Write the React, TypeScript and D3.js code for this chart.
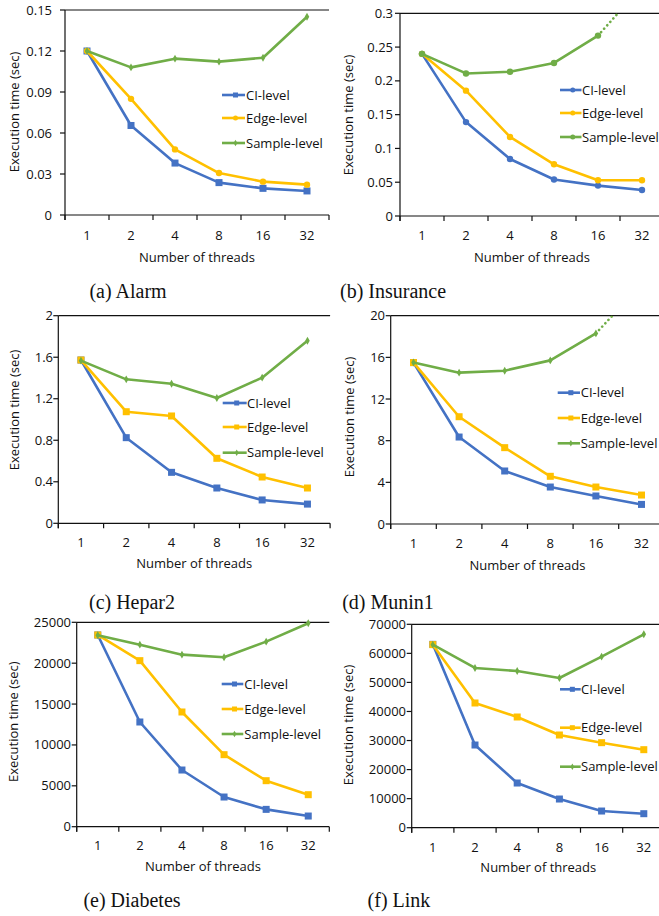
import React from "react";
import * as d3 from "d3";

// ---------- data ----------
const threads = ["1", "2", "4", "8", "16", "32"];
const seriesNames = ["CI-level", "Edge-level", "Sample-level"];

const alarmTicks = [0, 0.03, 0.06, 0.09, 0.12, 0.15];
const alarmCI = [0.12, 0.0655, 0.038, 0.0237, 0.0195, 0.0176];
const alarmEdge = [0.12, 0.085, 0.048, 0.0307, 0.0244, 0.0222];
const alarmSample = [0.12, 0.108, 0.1144, 0.1122, 0.1151, 0.1451];

const insuranceTicks = [0, 0.05, 0.1, 0.15, 0.2, 0.25, 0.3];
const insuranceCI = [0.24, 0.139, 0.0844, 0.054, 0.045, 0.0385];
const insuranceEdge = [0.24, 0.1855, 0.117, 0.0765, 0.053, 0.0528];
const insuranceSample = [0.24, 0.211, 0.2135, 0.2265, 0.267, 0.34];

const hepar2Ticks = [0, 0.4, 0.8, 1.2, 1.6, 2];
const hepar2CI = [1.573, 0.825, 0.491, 0.34, 0.225, 0.185];
const hepar2Edge = [1.573, 1.075, 1.034, 0.626, 0.446, 0.34];
const hepar2Sample = [1.567, 1.387, 1.345, 1.207, 1.403, 1.759];

const munin1Ticks = [0, 4, 8, 12, 16, 20];
const munin1CI = [15.5, 8.35, 5.09, 3.55, 2.69, 1.88];
const munin1Edge = [15.5, 10.3, 7.33, 4.58, 3.55, 2.78];
const munin1Sample = [15.5, 14.53, 14.72, 15.71, 18.3, 23];

const diabetesTicks = [0, 5000, 10000, 15000, 20000, 25000];
const diabetesCI = [23450, 12806, 6933, 3630, 2120, 1305];
const diabetesEdge = [23450, 20310, 14030, 8809, 5628, 3915];
const diabetesSample = [23410, 22267, 21044, 20718, 22634, 24878];

const linkTicks = [0, 10000, 20000, 30000, 40000, 50000, 60000, 70000];
const linkCI = [63100, 28459, 15377, 9869, 5738, 4820];
const linkEdge = [63000, 42918, 38098, 31902, 29262, 26852];
const linkSample = [63000, 54967, 53934, 51525, 58869, 66557];

const captions = ["(a) Alarm", "(b) Insurance", "(c) Hepar2", "(d) Munin1", "(e) Diabetes", "(f) Link"];

// ---------- styling / layout ----------
const COLORS = ["#4472C4", "#FFC000", "#70AD47"];
const FONT = "'Open Sans', 'Liberation Sans', sans-serif";

type Panel = {
  id: string;
  ticks: number[];
  series: number[][];
  markers: string[];
  dottedLast: boolean;
  x0: number; band: number; yTop: number; yBot: number;
  labelRight: number; xLabelY: number; xTitleY: number;
  yTitleX: number; yTitleY: number;
  legX0: number; legX1: number; legTextX: number; legYs: number[];
  capX: number; capY: number; caption: string;
};

const panels: Panel[] = [
  { id: "a", ticks: alarmTicks, series: [alarmCI, alarmEdge, alarmSample], markers: ["square", "circle", "diamond"], dottedLast: false,
    x0: 65, band: 44, yTop: 10, yBot: 215, labelRight: 52, xLabelY: 235, xTitleY: 257, yTitleX: 14, yTitleY: 112,
    legX0: 222, legX1: 245, legTextX: 246, legYs: [95, 118, 143], capX: 128, capY: 298, caption: captions[0] },
  { id: "b", ticks: insuranceTicks, series: [insuranceCI, insuranceEdge, insuranceSample], markers: ["circle", "circle", "circle"], dottedLast: true,
    x0: 400, band: 44, yTop: 13.3, yBot: 216, labelRight: 393, xLabelY: 235, xTitleY: 257, yTitleX: 348, yTitleY: 115,
    legX0: 560, legX1: 581.5, legTextX: 582, legYs: [90, 113, 137], capX: 393, capY: 298, caption: captions[1] },
  { id: "c", ticks: hepar2Ticks, series: [hepar2CI, hepar2Edge, hepar2Sample], markers: ["square", "square", "diamond"], dottedLast: false,
    x0: 58.3, band: 45.3, yTop: 315.7, yBot: 523.3, labelRight: 53, xLabelY: 542.7, xTitleY: 563.3, yTitleX: 14, yTitleY: 410,
    legX0: 222.7, legX1: 246.7, legTextX: 247, legYs: [403, 427, 452.7], capX: 132, capY: 608.5, caption: captions[2] },
  { id: "d", ticks: munin1Ticks, series: [munin1CI, munin1Edge, munin1Sample], markers: ["square", "square", "diamond"], dottedLast: true,
    x0: 390.7, band: 45.6, yTop: 315.7, yBot: 524, labelRight: 385, xLabelY: 543.3, xTitleY: 565, yTitleX: 349.3, yTitleY: 417,
    legX0: 557.7, legX1: 580, legTextX: 580.7, legYs: [392.7, 418, 443.3], capX: 388, capY: 608.5, caption: captions[3] },
  { id: "e", ticks: diabetesTicks, series: [diabetesCI, diabetesEdge, diabetesSample], markers: ["square", "square", "diamond"], dottedLast: false,
    x0: 76.7, band: 42.1, yTop: 622.3, yBot: 826.7, labelRight: 71, xLabelY: 845, xTitleY: 866, yTitleX: 13.3, yTitleY: 721.7,
    legX0: 221.7, legX1: 243.3, legTextX: 244.3, legYs: [684, 709, 734], capX: 132, capY: 906.5, caption: captions[4] },
  { id: "f", ticks: linkTicks, series: [linkCI, linkEdge, linkSample], markers: ["square", "square", "diamond"], dottedLast: false,
    x0: 411.7, band: 42.2, yTop: 624.3, yBot: 827.7, labelRight: 406, xLabelY: 847.3, xTitleY: 867.3, yTitleX: 348.3, yTitleY: 725,
    legX0: 560, legX1: 580.7, legTextX: 581, legYs: [689.3, 727.7, 766.7], capX: 399, capY: 906.5, caption: captions[5] },
];

function Marker({ type, x, y, color, small }: { type: string; x: number; y: number; color: string; small?: boolean }) {
  if (type === "square") {
    const s = small ? 5 : 7;
    return <rect x={x - s / 2} y={y - s / 2} width={s} height={s} fill={color} />;
  }
  if (type === "circle") {
    const r = small ? 2.5 : 3.2;
    return <circle cx={x} cy={y} r={r} fill={color} />;
  }
  const p = d3.symbol().type(d3.symbolDiamond).size(small ? 12 : 18)();
  return <path d={p || ""} transform={`translate(${x},${y})`} fill={color} />;
}

function PanelChart({ p }: { p: Panel }) {
  const x1 = p.x0 + p.band * threads.length;
  const x = d3.scaleBand<string>().domain(threads).range([p.x0, x1]).padding(0);
  const maxV = p.ticks[p.ticks.length - 1];
  const y = d3.scaleLinear().domain([0, maxV]).range([p.yBot, p.yTop]);
  const cx = (t: string) => (x(t) as number) + x.bandwidth() / 2;
  const line = d3.line<number>().x((_, i) => cx(threads[i])).y((v) => y(v));
  const clipId = `clip-${p.id}`;
  const boundaries = d3.range(threads.length + 1).map((i) => p.x0 + i * x.bandwidth());

  return (
    <g>
      <defs>
        <clipPath id={clipId}>
          <rect x={p.x0} y={p.yTop - 4} width={x1 - p.x0 + 4} height={p.yBot - p.yTop + 8} />
        </clipPath>
        <clipPath id={clipId + "-top"}>
          <rect x={p.x0} y={p.yTop} width={x1 - p.x0 + 4} height={p.yBot - p.yTop + 8} />
        </clipPath>
      </defs>
      {/* axes */}
      <line x1={p.x0} x2={x1} y1={p.yBot} y2={p.yBot} stroke="#111" strokeWidth={1.2} />
      <line x1={p.x0} x2={x1} y1={p.yTop} y2={p.yTop} stroke="#111" strokeWidth={1.2} />
      <line x1={p.x0} x2={p.x0} y1={p.yTop} y2={p.yBot + 5} stroke="#111" strokeWidth={1.2} />
      {boundaries.map((bx, i) => (
        <line key={"xt" + i} x1={bx} x2={bx} y1={p.yBot} y2={p.yBot + 5} stroke="#111" strokeWidth={1.2} />
      ))}
      {p.ticks.map((t) => (
        <g key={"yt" + t}>
          <line x1={p.x0 - 5} x2={p.x0} y1={y(t)} y2={y(t)} stroke="#111" strokeWidth={1.2} />
          <text x={p.labelRight} y={y(t)} dy="0.35em" textAnchor="end" fontFamily={FONT} fontSize={13} fill="#111">
            {String(t)}
          </text>
        </g>
      ))}
      {threads.map((t) => (
        <text key={"xl" + t} x={cx(t)} y={p.xLabelY} dy="0.35em" textAnchor="middle" fontFamily={FONT} fontSize={13} fill="#111">
          {t}
        </text>
      ))}
      <text x={(p.x0 + x1) / 2} y={p.xTitleY} dy="0.35em" textAnchor="middle" fontFamily={FONT} fontSize={13} fill="#111">
        Number of threads
      </text>
      <text
        transform={`translate(${p.yTitleX},${p.yTitleY}) rotate(-90)`}
        dy="0.35em"
        textAnchor="middle"
        fontFamily={FONT}
        fontSize={13}
        fill="#111"
      >
        Execution time (sec)
      </text>
      {/* series */}
      {p.series.map((vals, si) => {
        const solidVals = p.dottedLast && si === 2 ? vals.slice(0, vals.length - 1) : vals;
        return (
          <g key={"s" + si}>
            <path d={line(solidVals) || ""} fill="none" stroke={COLORS[si]} strokeWidth={2.6} strokeLinejoin="round" clipPath={`url(#${clipId})`} />
            {p.dottedLast && si === 2 && (
              <path
                d={
                  d3.line<number>().x((_, i) => cx(threads[vals.length - 2 + i])).y((v) => y(v))(vals.slice(vals.length - 2)) || ""
                }
                fill="none"
                stroke={COLORS[si]}
                strokeWidth={2.6}
                strokeDasharray="0.1 4.5"
                strokeLinecap="round"
                clipPath={`url(#${clipId}-top)`}
              />
            )}
            {solidVals.map((v, i) => (
              <Marker key={i} type={p.markers[si]} x={cx(threads[i])} y={y(v)} color={COLORS[si]} />
            ))}
          </g>
        );
      })}
      {/* legend */}
      {seriesNames.map((name, si) => (
        <g key={"lg" + si}>
          <line x1={p.legX0} x2={p.legX1} y1={p.legYs[si]} y2={p.legYs[si]} stroke={COLORS[si]} strokeWidth={2.6} />
          <Marker type={p.markers[si]} x={(p.legX0 + p.legX1) / 2 + 2} y={p.legYs[si]} color={COLORS[si]} small />
          <text x={p.legTextX} y={p.legYs[si]} dy="0.35em" fontFamily={FONT} fontSize={13} fill="#111">
            {name}
          </text>
        </g>
      ))}
      {/* caption */}
      <text x={p.capX} y={p.capY} textAnchor="middle" fontFamily="'Liberation Serif', 'Times New Roman', serif" fontSize={20} fill="#111">
        {p.caption}
      </text>
    </g>
  );
}

export default function App() {
  return (
    <svg width={659} height={916} style={{ position: "absolute", left: 0, top: 0, background: "#fff" }}>
      <rect x={0} y={0} width={659} height={916} fill="#fff" />
      {panels.map((p) => (
        <PanelChart key={p.id} p={p} />
      ))}
    </svg>
  );
}
